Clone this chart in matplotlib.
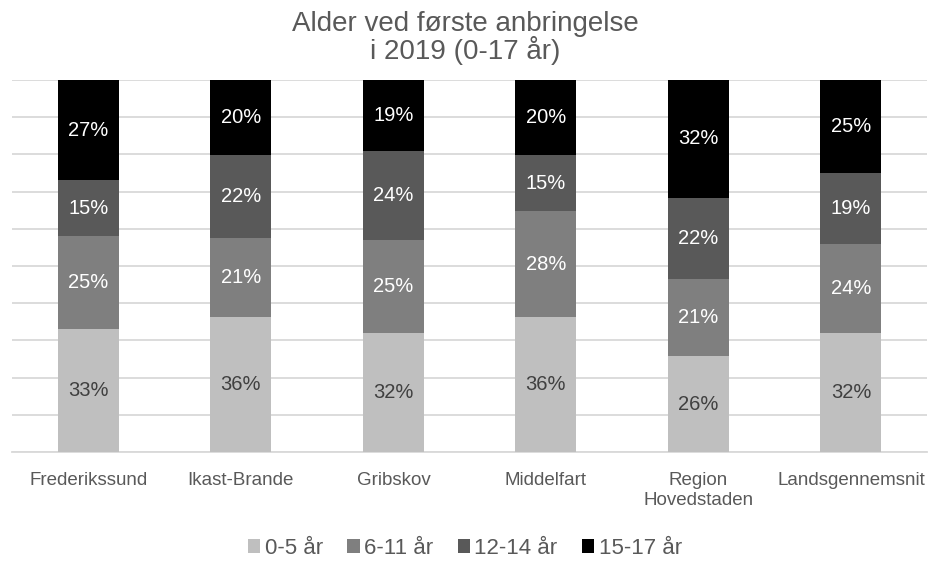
import numpy as np
import matplotlib
matplotlib.use('Agg')
import matplotlib.pyplot as plt
from matplotlib.patches import Patch

categories = ['Frederikssund', 'Ikast-Brande', 'Gribskov', 'Middelfart',
              'Region\nHovedstaden', 'Landsgennemsnit']
series_names = ['0-5 år', '6-11 år', '12-14 år', '15-17 år']
age_0_5 = [33, 36, 32, 36, 26, 32]
age_6_11 = [25, 21, 25, 28, 21, 24]
age_12_14 = [15, 22, 24, 15, 22, 19]
age_15_17 = [27, 20, 19, 20, 32, 25]

colors = ['#BFBFBF', '#7F7F7F', '#595959', '#000000']
label_colors = ['#404040', 'white', 'white', 'white']

plt.rcParams['font.family'] = ['Liberation Sans', 'DejaVu Sans']

data = np.array([age_0_5, age_6_11, age_12_14, age_15_17], dtype=float)
shares = data / data.sum(axis=0)

fig = plt.figure(figsize=(9.3, 5.64), dpi=100)
ax = fig.add_axes([0.013, 0.1986, 0.984, 0.6596])

x = np.arange(len(categories))
bottom = np.zeros(len(categories))
for k in range(4):
    ax.bar(x, shares[k], 0.4, bottom=bottom, color=colors[k], zorder=3)
    for i in range(len(categories)):
        ax.text(x[i], bottom[i] + shares[k][i] / 2, f'{int(data[k][i])}%',
                ha='center', va='center', fontsize=14.5, color=label_colors[k], zorder=4)
    bottom += shares[k]

ax.set_xlim(-0.5, len(categories) - 0.5)
ax.set_ylim(0, 1)
ax.set_yticks(np.arange(0, 1.01, 0.1))
ax.yaxis.grid(True, color='#D9D9D9', linewidth=1.3, zorder=0)
ax.tick_params(axis='y', left=False, labelleft=False)
ax.tick_params(axis='x', bottom=False, pad=11)
for s in ['top', 'right', 'left']:
    ax.spines[s].set_visible(False)
ax.spines['bottom'].set_color('#D9D9D9')
ax.spines['bottom'].set_linewidth(1.3)
ax.set_xticks(x)
ax.set_xticklabels(categories, fontsize=13.5, color='#595959', linespacing=1.25)

fig.text(0.5, 0.933, 'Alder ved første anbringelse\ni 2019 (0-17 år)', ha='center',
         va='center', fontsize=20, color='#595959', linespacing=0.98)

handles = [Patch(facecolor=c, edgecolor='none') for c in colors]
fig.legend(handles, series_names, loc='center', bbox_to_anchor=(0.5, 0.028),
           ncol=4, frameon=False, fontsize=16, labelcolor='#595959',
           handlelength=0.55, handleheight=0.55, handletextpad=0.2, columnspacing=1.1)

fig.savefig('out.png', dpi=100)
